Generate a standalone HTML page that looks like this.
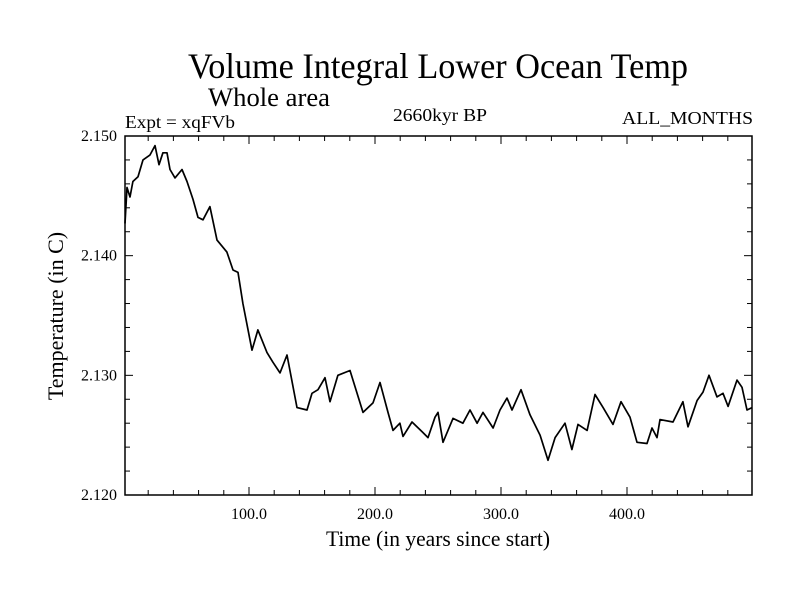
<!DOCTYPE html>
<html><head><meta charset="utf-8"><style>
body{margin:0;background:#fff;}
text{font-family:"Liberation Serif",serif;fill:#000;}
</style></head><body>
<svg id="chart" width="800" height="600" xmlns="http://www.w3.org/2000/svg">
<rect width="800" height="600" fill="#fff"/>
<text x="188" y="78" font-size="36" textLength="500" lengthAdjust="spacingAndGlyphs">Volume Integral Lower Ocean Temp</text>
<text x="208" y="106" font-size="26" textLength="122" lengthAdjust="spacingAndGlyphs">Whole area</text>
<text x="125" y="128" font-size="18" textLength="110" lengthAdjust="spacingAndGlyphs">Expt = xqFVb</text>
<text x="393" y="121" font-size="18" textLength="94" lengthAdjust="spacingAndGlyphs">2660kyr BP</text>
<text x="622" y="124" font-size="18" textLength="131" lengthAdjust="spacingAndGlyphs">ALL_MONTHS</text>
<g id="axes"></g>
<path id="series" fill="none" stroke="#000" stroke-width="1.7" stroke-linejoin="round"/>
<text x="326" y="546" font-size="22" textLength="224" lengthAdjust="spacingAndGlyphs">Time (in years since start)</text>
<text transform="translate(63,316) rotate(-90)" font-size="22" text-anchor="middle">Temperature (in C)</text>
</svg>
<script>
const years=[1.6,3.2,5.6,7.9,11.9,15.9,21.4,25.4,28.6,31.7,34.9,37.3,41.3,46.8,50.8,55.6,59.5,63.5,69.0,74.6,82.5,87.3,91.3,95.2,102.4,107.1,114.3,119.0,124.6,130.2,138.1,146.0,150.0,154.8,160.3,164.3,170.6,180.2,190.5,198.4,204.0,210.3,214.3,219.8,222.2,229.4,237.3,242.1,247.6,250.0,254.0,261.9,269.8,275.4,281.0,285.7,293.7,299.2,304.8,308.7,315.9,323.0,331.0,337.3,342.9,350.8,356.3,361.1,368.3,374.6,381.0,388.9,395.2,402.4,407.9,415.9,419.8,423.8,426.2,436.5,444.4,448.4,455.6,460.3,465.1,471.4,476.2,480.2,487.3,491.3,495.2,499.2];
const temps=[2.1427,2.1457,2.1449,2.1462,2.1466,2.1480,2.1484,2.1492,2.1476,2.1486,2.1486,2.1472,2.1465,2.1472,2.1462,2.1447,2.1432,2.1430,2.1441,2.1413,2.1403,2.1388,2.1386,2.1360,2.1321,2.1338,2.1319,2.1311,2.1302,2.1317,2.1273,2.1271,2.1285,2.1288,2.1298,2.1278,2.1300,2.1304,2.1269,2.1277,2.1294,2.1269,2.1254,2.1260,2.1249,2.1261,2.1253,2.1248,2.1265,2.1269,2.1244,2.1264,2.1260,2.1271,2.1260,2.1269,2.1256,2.1271,2.1281,2.1271,2.1288,2.1267,2.1250,2.1229,2.1248,2.1260,2.1238,2.1259,2.1254,2.1284,2.1273,2.1259,2.1278,2.1265,2.1244,2.1243,2.1256,2.1248,2.1263,2.1261,2.1278,2.1257,2.1279,2.1286,2.1300,2.1282,2.1285,2.1274,2.1296,2.1290,2.1271,2.1273];
const xTicks=[100,200,300,400];
const xTickLabels=["100.0","200.0","300.0","400.0"];
const yTicks=[2.12,2.13,2.14,2.15];
const yTickLabels=["2.120","2.130","2.140","2.150"];
const L=125,R=752,T=136,B=495,X0=1.6,X1=499.2,Y0=2.12,Y1=2.15;
const sx=v=>L+(v-X0)/(X1-X0)*(R-L);
const sy=v=>B-(v-Y0)/(Y1-Y0)*(B-T);
const NS="http://www.w3.org/2000/svg";
const ax=document.getElementById('axes');
function mk(tag,a){const e=document.createElementNS(NS,tag);for(const k in a)e.setAttribute(k,a[k]);ax.appendChild(e);return e;}
const frame=mk('rect',{x:L,y:T,width:R-L,height:B-T,fill:'none',stroke:'#000','stroke-width':1.5});


for(let v=20;v<X1;v+=20){const major=v%100===0;const len=major?8:5;const x=sx(v);
 const t1=mk('line',{x1:x,x2:x,y1:B,y2:B-len,stroke:'#000'});
 
 
 const t2=mk('line',{x1:x,x2:x,y1:T,y2:T+len,stroke:'#000'});
 
 }
for(let i=0;i<=15;i++){const v=Y0+i*0.002;const major=i%5===0;const len=major?8:5;const y=sy(v);
 const t1=mk('line',{x1:L,x2:L+len,y1:y,y2:y,stroke:'#000'});
 
 
 const t2=mk('line',{x1:R,x2:R-len,y1:y,y2:y,stroke:'#000'});
 
 }
xTicks.forEach((v,i)=>{const t=mk('text',{x:sx(v),y:B+24,'font-size':16,'text-anchor':'middle'});t.textContent=xTickLabels[i];
 
 });
yTicks.forEach((v,i)=>{const t=mk('text',{x:L-8,y:sy(v)+5,'font-size':16,'text-anchor':'end'});t.textContent=yTickLabels[i];
 
 });
document.getElementById('series').setAttribute('d',years.map((y,i)=>(i?'L':'M')+sx(y).toFixed(1)+','+sy(temps[i]).toFixed(1)).join(''));
</script>
</body></html>
